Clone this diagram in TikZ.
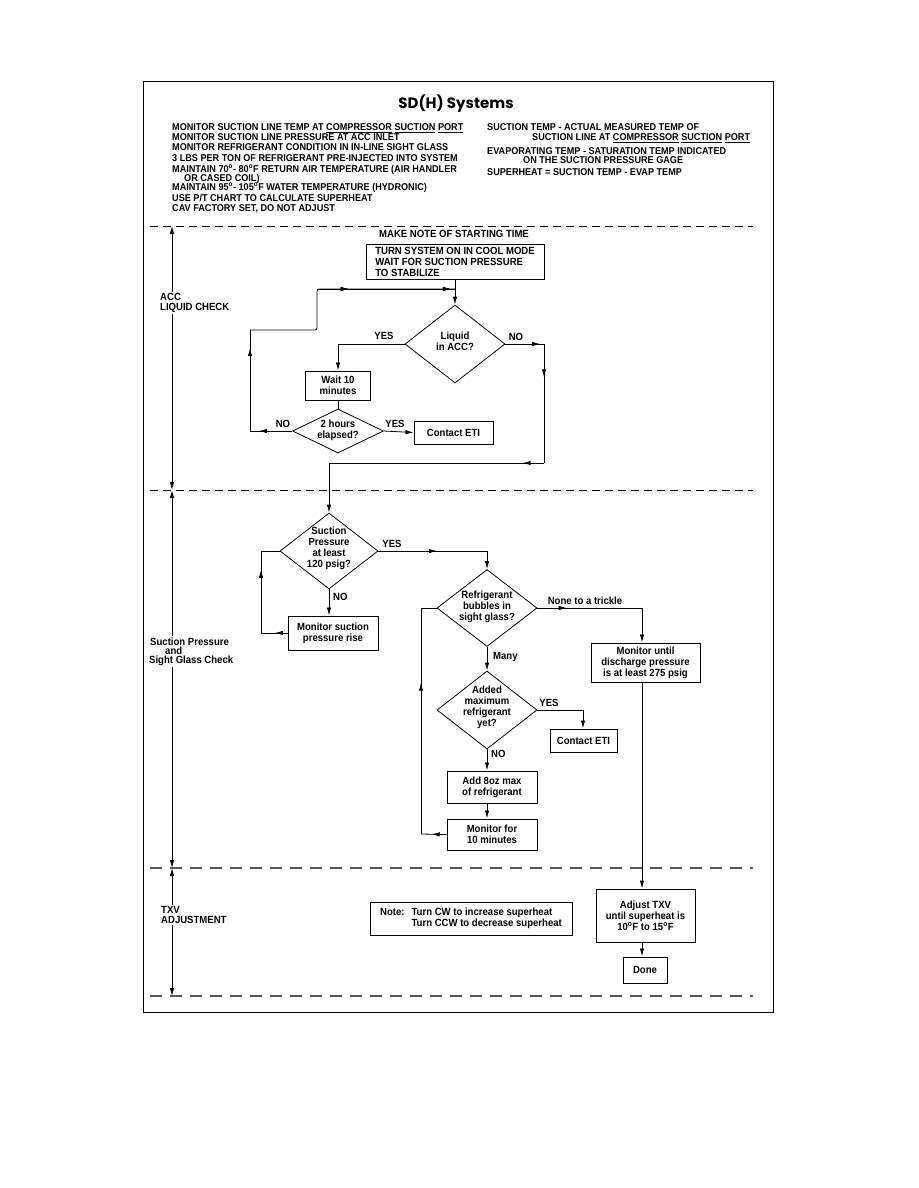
\documentclass[tikz,border=0pt]{standalone}
\usepackage{fontspec}
\setmainfont{Liberation Sans}[FakeStretch=0.92]
\newfontfamily\titlefont{Poppins}
\usetikzlibrary{arrows.meta,shapes.geometric,decorations.markings}
\newcommand\flowfont{\bfseries\fontsize{10.4}{11}\selectfont}
\newcommand\headfont{\bfseries\fontsize{9.9}{10.6}\selectfont}
\begin{document}
\begin{tikzpicture}[x=1pt,y=-1pt,
  ln/.style={line width=0.8pt},
  box/.style={draw, line width=1pt, inner sep=0pt, align=center, font=\flowfont},
  dia/.style={diamond, draw, line width=0.8pt, inner sep=0pt},
  dtxt/.style={align=center, font=\flowfont, inner sep=0pt},
  lab/.style={font=\flowfont, inner sep=0pt},
  sidelab/.style={font=\flowfont, inner sep=1.5pt, fill=white, anchor=west},
  hd/.style={font=\headfont, inner sep=0pt, anchor=base west},
  tip/.style={-{Latex[length=8pt,width=4.4pt]}},
  ma/.style={postaction={decorate},decoration={markings,mark=at position #1 with {\arrow{Latex[length=8pt,width=4.4pt]}}}},
  blackdash/.style={line width=0.8pt, dash pattern=on 8pt off 5pt},
  greydash/.style={line width=1.1pt, draw=black!65, dash pattern=on 12pt off 8pt},
  larr/.style={line width=0.8pt, {Latex[length=8pt,width=4.5pt]}-{Latex[length=8pt,width=4.5pt]}}
]
\useasboundingbox (0,0) rectangle (918,1188);
\fill[white] (0,0) rectangle (918,1188);
\draw[line width=1pt] (143,82) rectangle (773,1012);

% title and header
\node[font=\titlefont\bfseries\fontsize{15}{18}\selectfont, inner sep=0pt] (title) at (456,104) {SD(H) Systems};
\node[hd] (h1) at (172,130.3) {MONITOR SUCTION LINE TEMP AT \underline{COMPRESSOR} \underline{SUCTION} \underline{PORT}};
\node[hd] (h2) at (172,140.3) {MONITOR SUCTION LINE PRESSURE AT ACC INLET};
\node[hd] (h3) at (172,150.3) {MONITOR REFRIGERANT CONDITION IN IN-LINE SIGHT GLASS};
\node[hd] (h4) at (172,161.3) {3 LBS PER TON OF REFRIGERANT PRE-INJECTED INTO SYSTEM};
\node[hd] (h5) at (172,172.3) {MAINTAIN 70\textsuperscript{o}- 80\textsuperscript{o}F RETURN AIR TEMPERATURE (AIR HANDLER};
\node[hd] (h6) at (184,181.3) {OR CASED COIL)};
\node[hd] (h7) at (172,190.3) {MAINTAIN 95\textsuperscript{o}- 105\textsuperscript{o}F WATER TEMPERATURE (HYDRONIC)};
\node[hd] (h8) at (172,201.3) {USE P/T CHART TO CALCULATE SUPERHEAT};
\node[hd] (h9) at (172,211.3) {CAV FACTORY SET, DO NOT ADJUST};
\node[hd] (r1) at (487,130.3) {SUCTION TEMP - ACTUAL MEASURED TEMP OF};
\node[hd] (r2) at (532,140.3) {SUCTION LINE AT \underline{COMPRESSOR} \underline{SUCTION} \underline{PORT}};
\node[hd] (r3) at (487,154.3) {EVAPORATING TEMP - SATURATION TEMP INDICATED};
\node[hd] (r4) at (523,163.3) {ON THE SUCTION PRESSURE GAGE};
\node[hd] (r5) at (487,175.3) {SUPERHEAT = SUCTION TEMP - EVAP TEMP};

% section separators
\coordinate (s1a) at (150,226); \coordinate (s1b) at (753,226);
\coordinate (s2a) at (150,490); \coordinate (s2b) at (753,490);
\coordinate (s3a) at (150,868); \coordinate (s3b) at (753,868);
\coordinate (s4a) at (150,996); \coordinate (s4b) at (753,996);
\draw[blackdash] (s1a) -- (s1b);
\draw[blackdash] (s2a) -- (s2b);
\draw[greydash] (s3a) -- (s3b);
\draw[greydash] (s4a) -- (s4b);
\coordinate (l1) at (172,226); \coordinate (l2) at (172,490);
\coordinate (l3) at (172,868); \coordinate (l4) at (172,996);
\draw[larr] (l1) -- (l2);
\draw[larr] (l2) -- (l3);
\draw[larr] (l3) -- (l4);
\node[sidelab] (acc1) at (158.5,297) {ACC};
\node[sidelab] (acc2) at (158.5,308) {LIQUID CHECK};
\node[sidelab] (sp1) at (148.5,641.5) {Suction Pressure};
\node[sidelab] (sp2) at (163.5,651) {and};
\node[sidelab] (sp3) at (147.5,661) {Sight Glass Check};
\node[sidelab] (tx1) at (159.5,910) {TXV};
\node[sidelab] (tx2) at (159.5,919.5) {ADJUSTMENT};

% ACC liquid check
\node[lab] (start) at (454,234) {MAKE NOTE OF STARTING TIME};
\node[box, align=left, minimum width=178pt, minimum height=35pt] (b1) at (455,261.5) {TURN SYSTEM ON IN COOL MODE\\WAIT FOR SUCTION PRESSURE\\TO STABILIZE};
\node[dia, minimum width=100pt, minimum height=78pt] (d1) at (455,344) {};
\node[dtxt] (d1t) at (455,341) {Liquid\\in ACC?};
\node[box, minimum width=65pt, minimum height=29pt] (b2) at (338,385.5) {Wait 10\\minutes};
\node[dia, minimum width=91pt, minimum height=44pt] (d2) at (338,431) {};
\node[dtxt] (d2t) at (338,430) {2 hours\\elapsed?};
\node[box, minimum width=79pt, minimum height=23pt] (b3) at (453.5,432.5) {Contact ETI};

\coordinate (ca1) at (250,431); \coordinate (ca2) at (250,330);
\coordinate (ca3) at (317,330); \coordinate (ca4) at (317,289);
\coordinate (ca5) at (455,289);
\coordinate (cy1) at (338,344);
\coordinate (cb1) at (544,344); \coordinate (cb2) at (544,463); \coordinate (cb3) at (329,463);

\draw[ln, tip] (b1) -- (d1.north);
\draw[ln, tip] (d1.west) -- (cy1) -- (b2.north);
\draw[ln] (b2.south) -- (d2.north);
\draw[ln, tip] (d2.east) -- (b3.west);
\draw[ln, ma=0.79] (d2.west) -- (ca1);
\draw[ln, ma=0.82] (ca1) -- (ca2);
\draw[ln, rounded corners=2pt] (ca2) -- (ca3) -- (ca4) -- (ca5);
\draw[ln, ma=0.23, ma=0.97] (ca4) -- (ca5);
\draw[ln, ma=0.9] (d1.east) -- (cb1);
\draw[ln, ma=0.28] (cb1) -- (cb2);
\draw[ln, ma=0.1] (cb2) -- (cb3);

\node[lab] (yes1) at (384,336) {YES};
\node[lab] (no1) at (516,337) {NO};
\node[lab] (no2) at (283,424) {NO};
\node[lab] (yes2) at (395,424) {YES};

% suction pressure and sight glass
\node[dia, minimum width=98pt, minimum height=76pt] (d3) at (329,551) {};
\node[dtxt] (d3t) at (329,548) {Suction\\Pressure\\at least\\120 psig?};
\node[box, minimum width=90pt, minimum height=34pt] (b4) at (333,633) {Monitor suction\\pressure rise};
\node[dia, minimum width=100pt, minimum height=77pt] (d4) at (487,608) {};
\node[dtxt] (d4t) at (487,607) {Refrigerant\\bubbles in\\sight glass?};
\node[box, minimum width=109pt, minimum height=39pt] (b5) at (645.5,662.5) {Monitor until\\discharge pressure\\is at least 275 psig};
\node[dia, minimum width=100pt, minimum height=78pt] (d5) at (487,710) {};
\node[dtxt] (d5t) at (487,707.5) {Added\\maximum\\refrigerant\\yet?};
\node[box, minimum width=67pt, minimum height=23pt] (b6) at (583.5,740.5) {Contact ETI};
\node[box, minimum width=90pt, minimum height=32pt] (b7) at (492,787) {Add 8oz max\\of refrigerant};
\node[box, minimum width=90pt, minimum height=31pt] (b8) at (492,834.5) {Monitor for\\10 minutes};

\coordinate (cc1) at (487,551);
\coordinate (cd1) at (261,633); \coordinate (cd2) at (261,551);
\coordinate (ce1) at (642,608);
\coordinate (cf1) at (583,710);
\coordinate (cg1) at (421,834); \coordinate (cg2) at (421,608);

\draw[ln, tip] (cb3) -- (d3.north);
\draw[ln, ma=0.54] (d3.east) -- (cc1);
\draw[ln, tip] (cc1) -- (d4.north);
\draw[ln, tip] (d3.south) -- (d3.south |- b4.north);
\draw[ln, ma=0.48] (b4.west) -- (cd1);
\draw[ln, ma=0.77] (cd1) -- (cd2);
\draw[ln] (cd2) -- (d3.west);
\draw[ln, ma=0.28] (d4.east) -- (ce1);
\draw[ln, tip] (ce1) -- (ce1 |- b5.north);
\draw[ln, tip] (d4.south) -- (d5.north);
\draw[ln, tip] (d5.east) -- (cf1) -- (cf1 |- b6.north);
\draw[ln, tip] (d5.south) -- (d5.south |- b7.north);
\draw[ln, tip] (d5.south |- b7.south) -- (d5.south |- b8.north);
\draw[ln, ma=0.58] (b8.west) -- (cg1);
\draw[ln, ma=0.67] (cg1) -- (cg2);
\draw[ln] (cg2) -- (d4.west);

\node[lab] (yes3) at (392,544) {YES};
\node[lab, anchor=west] (no3) at (333,597) {NO};
\node[lab] (trk) at (585,601) {None to a trickle};
\node[lab, anchor=west] (many) at (493,657) {Many};
\node[lab] (yes4) at (549,703) {YES};
\node[lab, anchor=west] (no4) at (491,754) {NO};

% TXV adjustment
\node[box, minimum width=99pt, minimum height=53pt] (b9) at (645.5,915.5) {Adjust TXV\\until superheat is\\10\textsuperscript{o}F to 15\textsuperscript{o}F};
\node[box, minimum width=44pt, minimum height=26pt] (b10) at (645,970) {Done};
\node[box, minimum width=202pt, minimum height=33pt] (b11) at (471,918.5) {\begin{tabular}{@{}l@{\hspace{7pt}}l@{}}Note: & Turn CW to increase superheat\\ & Turn CCW to decrease superheat\end{tabular}};
\draw[ln, tip] (ce1 |- b5.south) -- (ce1 |- b9.north);
\draw[ln, tip] (ce1 |- b9.south) -- (ce1 |- b10.north);
\end{tikzpicture}
\end{document}
